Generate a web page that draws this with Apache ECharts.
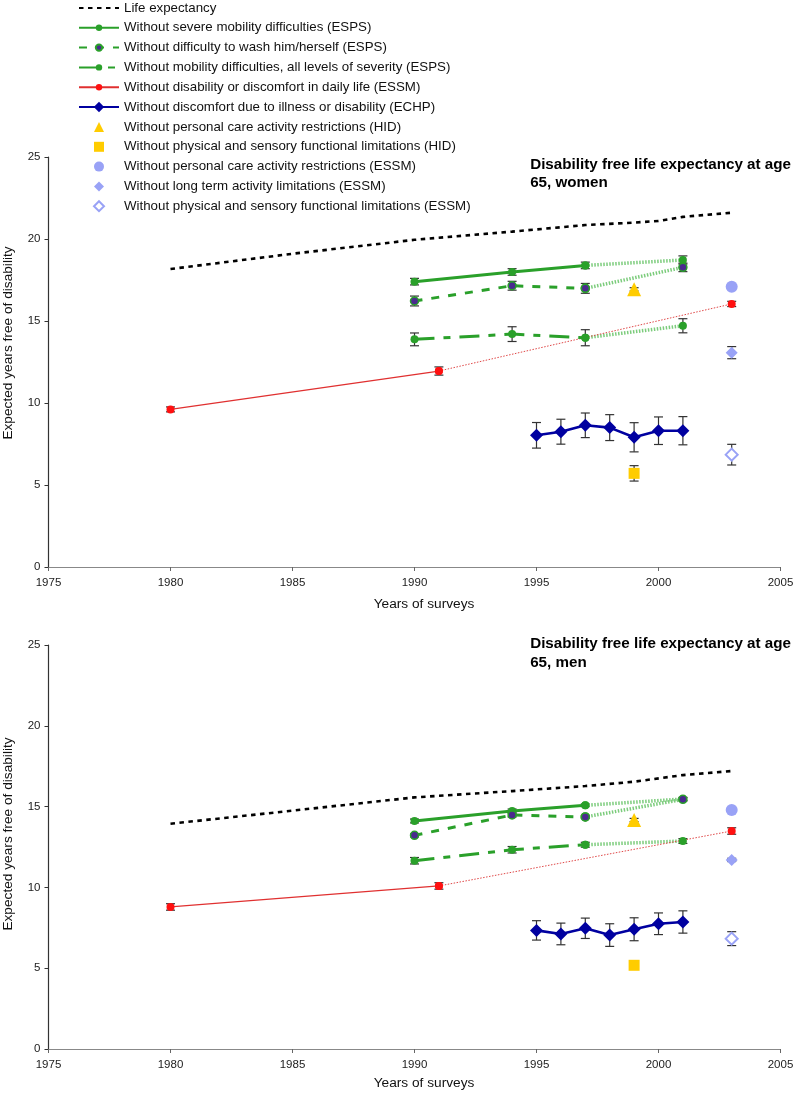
<!DOCTYPE html>
<html><head><meta charset="utf-8">
<script src="https://cdn.jsdelivr.net/npm/echarts@6/dist/echarts.min.js"></script>
<style>html,body{margin:0;padding:0;background:#fff}#c{width:798px;height:1094px}</style>
</head><body><div id="c"></div>
<script>
// ---------- DATA ----------
// Life expectancy at 65
const leYearsF = [1980, 1985, 1990, 1994, 1997, 1999, 2000, 2001, 2003];
const lifeExpF = [18.17, 19.1, 19.95, 20.45, 20.85, 21.0, 21.1, 21.35, 21.6];
const leYearsM = [1980, 1985, 1990, 1994, 1997, 1999, 2001, 2003];
const lifeExpM = [13.94, 14.75, 15.57, 15.96, 16.27, 16.54, 16.95, 17.2];

// ESPS surveys
const espsYears = [1990, 1994, 1997, 2001];
const severeF = [17.4, 17.99, 18.39, 18.72];
const severeErrF = [0.2, 0.2, 0.2, 0.25];
const washF = [16.22, 17.15, 16.99, 18.27];
const washErrF = [0.3, 0.27, 0.3, 0.26];
const mobF = [13.88, 14.2, 13.98, 14.71];
const mobErrF = [0.39, 0.45, 0.49, 0.43];
const severeM = [14.11, 14.73, 15.08, 15.47];
const severeErrM = [0.12, 0.12, 0.08, 0.1];
const washM = [13.22, 14.48, 14.36, 15.45];
const washErrM = [0.1, 0.12, 0.08, 0.1];
const mobM = [11.65, 12.33, 12.64, 12.87];
const mobErrM = [0.2, 0.2, 0.15, 0.15];

// ESSM disability or discomfort
const essmYears = [1980, 1991, 2003];
const discF = [9.61, 11.95, 16.04];
const discErrF = [0.15, 0.25, 0.16];
const discM = [8.79, 10.09, 13.49];
const discErrM = [0.2, 0.2, 0.2];

// ECHP
const echpYears = [1995, 1996, 1997, 1998, 1999, 2000, 2001];
const echpF = [8.03, 8.25, 8.64, 8.5, 7.91, 8.31, 8.31];
const echpErrF = [0.78, 0.76, 0.75, 0.79, 0.89, 0.84, 0.86];
const echpM = [7.34, 7.12, 7.47, 7.05, 7.41, 7.75, 7.86];
const echpErrM = [0.6, 0.67, 0.63, 0.7, 0.71, 0.67, 0.69];

// HID (1999) and ESSM (2003) single points
const hidYear = [1999];
const hidCareF = [16.93], hidCareErrF = [0.1];
const hidPhysF = [5.71], hidPhysErrF = [0.47];
const hidCareM = [14.17], hidCareErrM = [0.1];
const hidPhysM = [5.18], hidPhysErrM = [0.25];
const essmYear = [2003];
const essmCareF = [17.09];
const essmLongF = [13.07], essmLongErrF = [0.37];
const essmPhysF = [6.85], essmPhysErrF = [0.63];
const essmCareM = [14.79];
const essmLongM = [11.7], essmLongErrM = [0.1];
const essmPhysM = [6.83], essmPhysErrM = [0.43];

// Axis ticks
const xTicks = [1975, 1980, 1985, 1990, 1995, 2000, 2005];
const yTicks = [0, 5, 10, 15, 20, 25];

// ---------- NAMES / STYLES ----------
const N_LE = 'Life expectancy';
const N_SEV = 'Without severe mobility difficulties (ESPS)';
const N_WASH = 'Without difficulty to wash him/herself (ESPS)';
const N_MOB = 'Without mobility difficulties, all levels of severity (ESPS)';
const N_DISC = 'Without disability or discomfort in daily life (ESSM)';
const N_ECHP = 'Without discomfort due to illness or disability (ECHP)';
const N_HCARE = 'Without personal care activity restrictions (HID)';
const N_HPHYS = 'Without physical and sensory functional limitations (HID)';
const N_ECARE = 'Without personal care activity restrictions (ESSM)';
const N_ELONG = 'Without long term activity limitations (ESSM)';
const N_EPHYS = 'Without physical and sensory functional limitations (ESSM)';
const X_NAME = 'Years of surveys';
const Y_NAME = 'Expected years free of disability';
const TITLE_F = 'Disability free life expectancy at age\n65, women';
const TITLE_M = 'Disability free life expectancy at age\n65, men';

const GREEN = '#2aa02a', EXT_GREEN = '#7ccc7c', PURPLE = '#4a2a8e', RED = '#ff1010',
      BLUE = '#0000a0', YELLOW = '#ffcc00', PERI = '#99a2f6';
const FONT = 'Liberation Sans, Arial, sans-serif';

function pts(xs, ys, from, to) {
  const a = [];
  for (let i = from; i < to; i++) a.push([xs[i], ys[i]]);
  return a;
}
function errData(xs, ys, es) {
  return xs.map((x, i) => [x, ys[i] - es[i], ys[i] + es[i]]);
}
function errBarRender(params, api) {
  const x = api.value(0);
  const lo = api.coord([x, api.value(1)]);
  const hi = api.coord([x, api.value(2)]);
  const w = 4.5;
  const st = { stroke: '#333', lineWidth: 1.2 };
  return { type: 'group', children: [
    { type: 'line', shape: { x1: lo[0], y1: lo[1], x2: hi[0], y2: hi[1] }, style: st },
    { type: 'line', shape: { x1: lo[0] - w, y1: lo[1], x2: lo[0] + w, y2: lo[1] }, style: st },
    { type: 'line', shape: { x1: hi[0] - w, y1: hi[1], x2: hi[0] + w, y2: hi[1] }, style: st }
  ]};
}

function panelSeries(g, d) {
  const ax = { xAxisIndex: g, yAxisIndex: g };
  const S = [];
  const err = (xs, ys, es) => S.push(Object.assign({ type: 'custom', renderItem: errBarRender,
      data: errData(xs, ys, es), encode: { x: 0, y: [1, 2] }, z: 1, silent: true }, ax));
  const ext = (data, color, width, type, symStyle) => S.push(Object.assign({ type: 'line', data: data,
      symbol: 'circle', symbolSize: 8, itemStyle: symStyle, lineStyle: { color: color, width: width, type: type },
      z: 2, silent: true, animation: false }, ax));

  S.push(Object.assign({ name: N_LE, type: 'line', data: pts(d.leYears, d.le, 0, d.leYears.length), symbol: 'none',
    itemStyle: { color: '#000' }, lineStyle: { color: '#000', width: 2.6, type: [4.5, 4.5] }, z: 3, animation: false }, ax));

  // ESPS severe
  err(espsYears, d.sev, d.sevErr);
  ext(pts(espsYears, d.sev, 2, 4), EXT_GREEN, 3.5, [1.5, 1.5], { color: GREEN });
  S.push(Object.assign({ name: N_SEV, type: 'line', data: pts(espsYears, d.sev, 0, 3), symbol: 'circle', symbolSize: 8,
    itemStyle: { color: GREEN }, lineStyle: { color: GREEN, width: 3 }, z: 3, animation: false }, ax));
  // ESPS wash
  err(espsYears, d.wash, d.washErr);
  ext(pts(espsYears, d.wash, 2, 4), EXT_GREEN, 3.5, [1.5, 1.5], { color: PURPLE, borderColor: GREEN, borderWidth: 1.5 });
  S.push(Object.assign({ name: N_WASH, type: 'line', data: pts(espsYears, d.wash, 0, 3), symbol: 'circle', symbolSize: 8,
    itemStyle: { color: PURPLE, borderColor: GREEN, borderWidth: 1.5 }, lineStyle: { color: GREEN, width: 3, type: [8, 9] }, z: 3, animation: false }, ax));
  // ESPS mobility
  err(espsYears, d.mob, d.mobErr);
  ext(pts(espsYears, d.mob, 2, 4), EXT_GREEN, 3.5, [1.5, 1.5], { color: GREEN });
  S.push(Object.assign({ name: N_MOB, type: 'line', data: pts(espsYears, d.mob, 0, 3), symbol: 'circle', symbolSize: 8,
    itemStyle: { color: GREEN }, lineStyle: { color: GREEN, width: 3, type: [20, 9, 7, 9] }, z: 3, animation: false }, ax));
  // ESSM disability / discomfort
  err(essmYears, d.disc, d.discErr);
  S.push(Object.assign({ type: 'line', data: pts(essmYears, d.disc, 1, 3), symbol: 'circle', symbolSize: 8,
    itemStyle: { color: RED }, lineStyle: { color: '#e04848', width: 1, type: [1.5, 1.5] }, z: 2, silent: true, animation: false }, ax));
  S.push(Object.assign({ name: N_DISC, type: 'line', data: pts(essmYears, d.disc, 0, 2), symbol: 'circle', symbolSize: 8,
    itemStyle: { color: RED }, lineStyle: { color: '#e03030', width: 1.3 }, z: 3, animation: false }, ax));
  // ECHP
  err(echpYears, d.echp, d.echpErr);
  S.push(Object.assign({ name: N_ECHP, type: 'line', data: pts(echpYears, d.echp, 0, echpYears.length), symbol: 'diamond', symbolSize: 13,
    itemStyle: { color: BLUE }, lineStyle: { color: BLUE, width: 2.6 }, z: 3, animation: false }, ax));
  // HID
  err(hidYear, d.hcare, d.hcareErr);
  S.push(Object.assign({ name: N_HCARE, type: 'scatter', data: pts(hidYear, d.hcare, 0, 1), symbol: 'triangle', symbolSize: 14,
    itemStyle: { color: YELLOW, opacity: 1 }, z: 3, animation: false }, ax));
  err(hidYear, d.hphys, d.hphysErr);
  S.push(Object.assign({ name: N_HPHYS, type: 'scatter', data: pts(hidYear, d.hphys, 0, 1), symbol: 'rect', symbolSize: 11,
    itemStyle: { color: YELLOW, opacity: 1 }, z: 3, animation: false }, ax));
  // ESSM 2003
  S.push(Object.assign({ name: N_ECARE, type: 'scatter', data: pts(essmYear, d.ecare, 0, 1), symbol: 'circle', symbolSize: 12,
    itemStyle: { color: PERI, opacity: 1 }, z: 3, animation: false }, ax));
  err(essmYear, d.elong, d.elongErr);
  S.push(Object.assign({ name: N_ELONG, type: 'scatter', data: pts(essmYear, d.elong, 0, 1), symbol: 'diamond', symbolSize: 12,
    itemStyle: { color: PERI, opacity: 1 }, z: 3, animation: false }, ax));
  err(essmYear, d.ephys, d.ephysErr);
  S.push(Object.assign({ name: N_EPHYS, type: 'scatter', data: pts(essmYear, d.ephys, 0, 1), symbol: 'emptyDiamond', symbolSize: 12,
    itemStyle: { color: PERI, borderColor: PERI, borderWidth: 1.2, opacity: 1 }, z: 3, animation: false }, ax));
  return S;
}

const series = [].concat(
  panelSeries(0, { leYears: leYearsF, le: lifeExpF, sev: severeF, sevErr: severeErrF, wash: washF, washErr: washErrF,
    mob: mobF, mobErr: mobErrF, disc: discF, discErr: discErrF, echp: echpF, echpErr: echpErrF,
    hcare: hidCareF, hcareErr: hidCareErrF, hphys: hidPhysF, hphysErr: hidPhysErrF,
    ecare: essmCareF, elong: essmLongF, elongErr: essmLongErrF, ephys: essmPhysF, ephysErr: essmPhysErrF }),
  panelSeries(1, { leYears: leYearsM, le: lifeExpM, sev: severeM, sevErr: severeErrM, wash: washM, washErr: washErrM,
    mob: mobM, mobErr: mobErrM, disc: discM, discErr: discErrM, echp: echpM, echpErr: echpErrM,
    hcare: hidCareM, hcareErr: hidCareErrM, hphys: hidPhysM, hphysErr: hidPhysErrM,
    ecare: essmCareM, elong: essmLongM, elongErr: essmLongErrM, ephys: essmPhysM, ephysErr: essmPhysErrM })
);

function xAxis(g) {
  return { gridIndex: g, type: 'value', min: xTicks[0], max: xTicks[xTicks.length - 1], interval: 5,
    axisLine: { lineStyle: { color: '#888', width: 1.2 } },
    axisTick: { show: true, length: 4, lineStyle: { color: '#666' } },
    axisLabel: { fontFamily: FONT, fontSize: 11.5, color: '#222', margin: 10, formatter: v => String(v) },
    splitLine: { show: false } };
}
function yAxis(g) {
  return { gridIndex: g, type: 'value', min: yTicks[0], max: yTicks[yTicks.length - 1], interval: 5,
    axisLine: { show: true, lineStyle: { color: '#333', width: 1.2 } },
    axisTick: { show: true, length: 4, lineStyle: { color: '#333' } },
    axisLabel: { fontFamily: FONT, fontSize: 11.5, color: '#222', margin: 8, formatter: v => String(v) },
    splitLine: { show: false } };
}
function axisNameText(text, x, y, rot) {
  return { type: 'text', x: x, y: y, rotation: rot, silent: true,
    style: { text: text, font: '13.7px ' + FONT, fill: '#111', align: 'center', verticalAlign: 'middle' } };
}

const legendText = { fontFamily: FONT, fontSize: 13.3, lineHeight: 16, color: '#111' };
const option = {
  backgroundColor: '#fff',
  animation: false,
  title: [
    { text: TITLE_F, right: 2, top: 151,
      textStyle: { fontFamily: FONT, fontSize: 15.2, fontWeight: 'bold', lineHeight: 18, color: '#000' } },
    { text: TITLE_M, right: 2, top: 629,
      textStyle: { fontFamily: FONT, fontSize: 15.2, fontWeight: 'bold', lineHeight: 19, color: '#000' } }
  ],
  legend: [
    { orient: 'vertical', left: 78, top: 0, itemWidth: 40, itemHeight: 8, itemGap: 3.8, selectedMode: false,
      textStyle: legendText, padding: 0,
      data: [{ name: N_LE, itemStyle: { opacity: 0 } }, N_SEV, N_WASH, N_MOB, N_DISC] },
    { orient: 'vertical', left: 78, top: 99, itemWidth: 40, itemHeight: 13, itemGap: 3.8, selectedMode: false,
      textStyle: legendText, padding: 0, data: [N_ECHP] },
    { orient: 'vertical', left: 93, top: 119, itemWidth: 10, itemHeight: 10, itemGap: 3.8, selectedMode: false,
      textStyle: Object.assign({ padding: [0, 0, 0, 15] }, legendText), padding: 0,
      data: [N_HCARE, N_HPHYS, N_ECARE, N_ELONG, N_EPHYS] }
  ],
  grid: [
    { left: 48.5, top: 157, width: 732, height: 410 },
    { left: 48.5, top: 645, width: 732, height: 404 }
  ],
  xAxis: [xAxis(0), xAxis(1)],
  yAxis: [yAxis(0), yAxis(1)],
  graphic: [
    axisNameText(X_NAME, 424, 604, 0),
    axisNameText(X_NAME, 424, 1083, 0),
    axisNameText(Y_NAME, 8, 343, Math.PI / 2),
    axisNameText(Y_NAME, 8, 834, Math.PI / 2)
  ],
  series: series
};
const chart = echarts.init(document.getElementById('c'));
chart.setOption(option);
</script>
</body></html>
